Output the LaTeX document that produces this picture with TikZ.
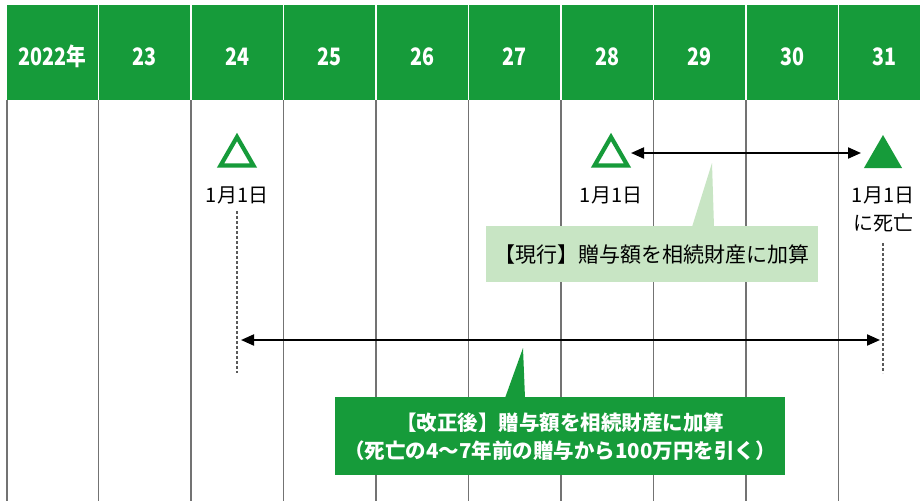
\documentclass[tikz,border=0pt]{standalone}
\usepackage{fontspec}
\setmainfont{Noto Sans CJK JP}
\newfontfamily\hdrfont[FakeStretch=0.82]{Noto Sans CJK JP}
\usetikzlibrary{shapes.geometric,arrows.meta}
\definecolor{hdrgreen}{RGB}{22,155,58}
\definecolor{lightgreen}{RGB}{200,229,196}
\definecolor{gridgray}{RGB}{115,115,115}
\tikzset{
  hdr/.style={text=white,font=\hdrfont\bfseries\fontsize{24}{24}\selectfont,anchor=base,inner sep=0},
  lbl/.style={text=black,font=\fontsize{20}{20}\selectfont,anchor=base,inner sep=0},
  tri/.style={regular polygon,regular polygon sides=3,minimum size=44,inner sep=0},
  opentri/.style={tri,draw=hdrgreen,line width=4.2,fill=white,minimum size=38},
  filltri/.style={tri,fill=hdrgreen},
  dotline/.style={black!65,line width=1.5,dash pattern=on 3pt off 2pt},
  span/.style={black,line width=2,{Triangle[length=13,width=11]}-{Triangle[length=13,width=11]}},
}
\begin{document}
\begin{tikzpicture}[x=1pt,y=-1pt]
\useasboundingbox (0,0) rectangle (920,501);
\fill[white] (0,0) rectangle (920,501);
% header band
\fill[hdrgreen] (7,5) rectangle (920,100);
\foreach \i in {1,...,9} \draw[white,line width=1.3] ({6+92.5*\i},5) -- ({6+92.5*\i},100);
\foreach \i in {0,...,9} \draw[gridgray,line width=1.6] ({7+92.5*\i-(\i>0)},100) -- ({7+92.5*\i-(\i>0)},501);
% header labels
\node[hdr] (y22) at (52.25,65) {2022年};
\node[hdr] (y23) at (144.75,65) {23};
\node[hdr] (y24) at (237.25,65) {24};
\node[hdr] (y25) at (329.75,65) {25};
\node[hdr] (y26) at (422.25,65) {26};
\node[hdr] (y27) at (514.75,65) {27};
\node[hdr] (y28) at (607.25,65) {28};
\node[hdr] (y29) at (699.75,65) {29};
\node[hdr] (y30) at (792.25,65) {30};
\node[hdr] (y31) at (884.75,65) {31};
% light callout (current rule)
\fill[lightgreen] (486,226) rectangle (818,282);
\fill[lightgreen] (692,227) -- (712,163) -- (714,227) -- cycle;
\node[lbl,font=\fontsize{21}{21}\selectfont] (cur) at (652,262) {【現行】贈与額を相続財産に加算};
% dark callout (after reform)
\fill[hdrgreen] (335,397) rectangle (785,475);
\fill[hdrgreen] (505,398) -- (523,348) -- (525,398) -- cycle;
\node[text=white,font=\bfseries\fontsize{20.5}{28}\selectfont,align=center,inner sep=0] (rev) at (560,437)
  {【改正後】贈与額を相続財産に加算\\（死亡の4～7年前の贈与から100万円を引く）};
% triangles and dates
\node[opentri] (t24) at (237,156) {};
\node[opentri] (t28) at (611,156) {};
\node[filltri] (t31) at (883,157) {};
\node[lbl] (d24) at (237,202) {1月1日};
\node[lbl] (d28) at (611,202) {1月1日};
\node[lbl] (d31) at (883,202) {1月1日};
\node[lbl] (k31) at (883,230) {に死亡};
% dotted guide lines
\coordinate (g24a) at (237,211);
\coordinate (g24b) at (237,373);
\coordinate (g31a) at (883,243);
\coordinate (g31b) at (883,373);
\draw[dotline] (g24a) -- (g24b);
\draw[dotline] (g31a) -- (g31b);
% span arrows
\coordinate (u1) at (631,153);
\coordinate (u2) at (861,153);
\coordinate (l1) at (241,340);
\coordinate (l2) at (880,340);
\draw[span] (u1) -- (u2);
\draw[span] (l1) -- (l2);
\end{tikzpicture}
\end{document}
